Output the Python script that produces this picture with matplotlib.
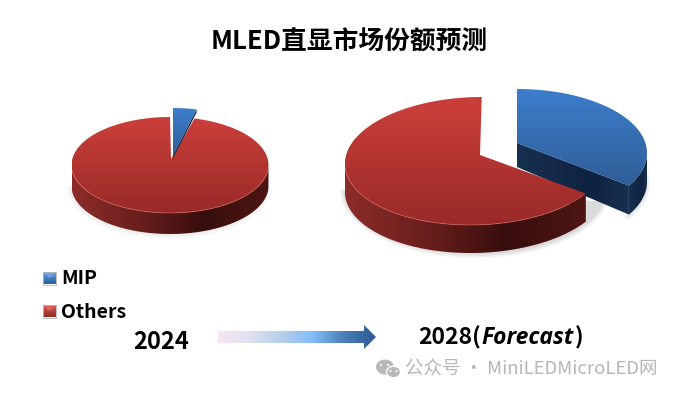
import numpy as np
import matplotlib
matplotlib.use("Agg")
import matplotlib.pyplot as plt
from matplotlib.patches import PathPatch, Ellipse, Polygon
from matplotlib.path import Path
from matplotlib.colors import LinearSegmentedColormap as LSC

plt.rcParams['font.family'] = ['Noto Sans CJK SC', 'DejaVu Sans']

# ---- data ----
categories = ['MIP', 'Others']
share_2024 = [4, 96]
share_2028 = [33.5, 66.5]
year_2024 = '2024'
year_2028 = '2028('
forecast_word = 'Forecast'
title = 'MLED直显市场份额预测'
watermark = '公众号 · MiniLEDMicroLED网'

fig = plt.figure(figsize=(6.8, 3.96), dpi=100, facecolor='white')
ax = fig.add_axes([0, 0, 1, 1])
ax.axis('off')

TOP = {'MIP': ['#3d7dcb', '#2f5e98'], 'Others': ['#cb3f3b', '#992a28']}
SIDE = {'MIP': ['#16304f', '#14294a', '#0f2340', '#17304f'],
        'Others': ['#8c2c29', '#6b1f1c', '#370e0c', '#4d1613']}


def grad(patch, colors, horizontal=False):
    ax.add_patch(patch)
    bb = patch.get_path().get_extents()
    cmap = LSC.from_list('g', colors)
    g = np.linspace(0, 1, 128)
    g = g[None, :] if horizontal else g[:, None]
    im = ax.imshow(g, cmap=cmap, extent=[bb.x0, bb.x1, bb.y1, bb.y0],
                   aspect='auto', zorder=patch.get_zorder(), interpolation='bilinear')
    im.set_clip_path(patch)
    patch.set_facecolor('none')
    patch.set_edgecolor('none')


def arc(c, a):
    # c = cx, cy, rx, ry, skew (perspective lean of the ellipse)
    skew = c[4] if len(c) > 4 else 0
    return np.c_[c[0] + c[2] * np.sin(a) + skew * c[3] * np.cos(a), c[1] - c[3] * np.cos(a)]


def slice3d(name, a0, a1, geom, apex, depth, inner_depth, z, wall=False):
    """Angles run clockwise from 12 o'clock; apex is offset from the centre by perspective."""
    a = np.linspace(a0, a1, 240)
    pts = arc(geom, a)
    apex = np.array([geom[0] + apex[0], geom[1] + apex[1]])
    vis = (a > np.pi / 2) & (a < 3 * np.pi / 2)
    if vis.any():
        p = pts[vis]
        poly = np.r_[p, (p + [0, depth])[::-1]]
        grad(Polygon(poly, closed=True, zorder=z), SIDE[name], horizontal=True)
    if wall:
        e = arc(geom, np.array([a1]))[0]
        poly = [apex, e, e + [0, depth], apex + [0, inner_depth]]
        grad(Polygon(poly, closed=True, zorder=z), SIDE[name], horizontal=True)
    grad(Polygon(np.r_[[apex], pts], closed=True, zorder=z + 1), TOP[name])


def shadow(cx, cy, rx, ry, depth, a0, a1, alpha=0.022):
    a = np.linspace(np.radians(a0), np.radians(a1), 120)
    for k in range(6):
        pts = arc((cx - 1, cy + depth + 1, rx + k * 0.9, ry + k * 0.9), a)
        ax.add_patch(Polygon(pts, closed=True, fc='#000000', ec='none', alpha=alpha, zorder=1))


def to_rad(values):
    return np.r_[0, np.cumsum(values)] / np.sum(values) * 2 * np.pi


# 2024 pie
e = to_rad(share_2024)
small = (170, 165, 98.5, 48, 0)
shadow(170, 165, 98, 48, 21, 90, 270, alpha=0.012)
slice3d('Others', e[1], e[2], small, (1, -6), 21, 21, 3)
slice3d('MIP', e[0], e[1], (173, 155, 95, 47, 0), (0, 0), 3, 3, 5, wall=True)

# 2028 pie
e = to_rad(share_2028)
big_red = (476, 161, 131, 64, 0.09)
shadow(476, 161, 131, 64, 28, 100, 270)
shadow(517, 153, 130, 64, 29, 80, 125)
slice3d('MIP', e[0], e[1], (517, 153, 130, 64, 0), (0, -10), 29, 24, 3, wall=True)
slice3d('Others', e[1], e[2], big_red, (4, -6), 28, 28, 5)

# pale rim highlight along the front edge
ax.add_patch(PathPatch(Path(arc(small, np.linspace(1.7, 4.6, 120))),
                       fc='none', ec='#e2706a', lw=0.6, alpha=0.6, zorder=8))
ax.add_patch(PathPatch(Path(arc(big_red, np.linspace(2.3, 4.6, 120))),
                       fc='none', ec='#e2706a', lw=0.6, alpha=0.6, zorder=8))

# legend
for name, y0, yt in zip(categories, [272, 305], [278.5, 312.5]):
    light = {'MIP': '#6aa6ea', 'Others': '#e0605a'}[name]
    dark = {'MIP': '#2c5c98', 'Others': '#8c2a28'}[name]
    grad(Polygon([[43, y0], [56, y0], [56, y0 + 12.5], [43, y0 + 12.5]], closed=True, zorder=6),
         [light, dark])
    ax.add_patch(Polygon([[44, y0 + 1], [55, y0 + 1], [49.5, y0 + 6]], closed=True, fc=light,
                         ec='none', zorder=8))
    ax.add_patch(Polygon([[43, y0], [56, y0], [56, y0 + 12.5], [43, y0 + 12.5]], closed=True,
                         fc='none', ec='#b8b8b8', lw=0.6, zorder=9))
    ax.text(61, yt, name, fontsize=14, fontweight='bold', va='center', ha='left', color='black', zorder=10)

# text
ax.text(349, 42, title, fontsize=18.5, fontweight='bold', ha='center', va='center', color='black')
ax.text(161, 342, year_2024, fontsize=17, fontweight='bold', ha='center', va='center', color='black')
ax.text(418, 338, year_2028, fontsize=16.5, fontweight='bold', ha='left', va='center', color='black')
ax.text(481, 338.5, forecast_word, fontsize=16.5, fontweight='bold', style='italic', ha='left', va='center',
        family='Open Sans', color='black')
ax.text(574.5, 338, ')', fontsize=16.5, fontweight='bold', ha='left', va='center', color='black')

# arrow
arrow = Polygon([[218, 331], [364, 331], [364, 325], [376, 337], [364, 349], [364, 343], [218, 343]],
                closed=True, zorder=4)
grad(arrow, ['#f8e6f5', '#dfe0f0', '#b4cfea', '#84bdf8', '#4a7fb8', '#2d5a92'], horizontal=True)

# watermark
ax.add_patch(Ellipse((385, 367), 18, 15, fc='#b8b8b8', ec='none', zorder=4))
ax.add_patch(Ellipse((393.5, 372), 14, 11.5, fc='#b8b8b8', ec='white', lw=1, zorder=5))
for x, y, z in [(381, 365, 6), (388, 365, 6), (390.5, 371, 7), (396.5, 371, 7)]:
    ax.add_patch(Ellipse((x, y), 2.2, 2.2, fc='white', ec='none', zorder=z))
ax.text(405, 370, watermark, fontsize=13.3, color='#b6b6b6', ha='left', va='center', zorder=5)

ax.set_xlim(0, 680)
ax.set_ylim(396, 0)
fig.savefig('out.png', dpi=100, facecolor='white')
